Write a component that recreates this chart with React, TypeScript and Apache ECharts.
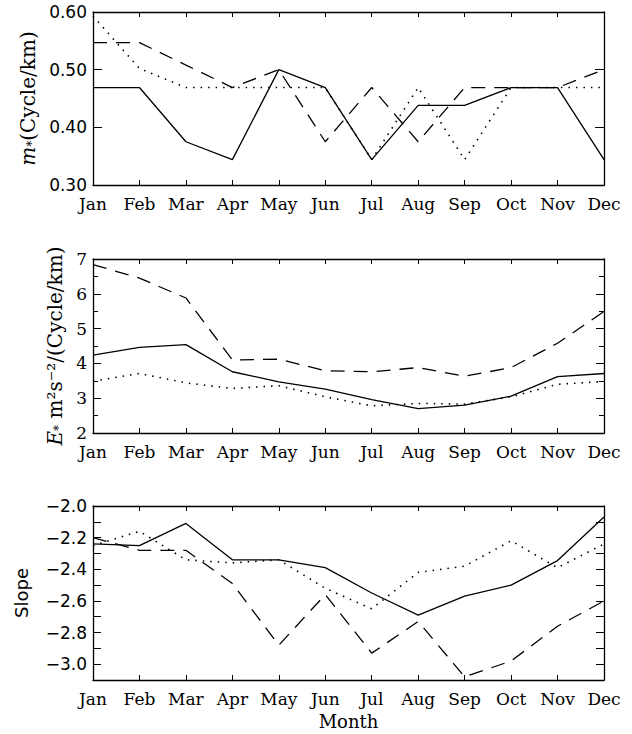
import React, { useEffect, useRef } from "react";
import * as echarts from "echarts";

const months = ["Jan", "Feb", "Mar", "Apr", "May", "Jun", "Jul", "Aug", "Sep", "Oct", "Nov", "Dec"];

// Panel 1: m* (Cycle/km)
const mSolid = [0.469, 0.469, 0.375, 0.344, 0.5, 0.469, 0.344, 0.438, 0.438, 0.469, 0.469, 0.344];
const mDotted = [0.593, 0.502, 0.469, 0.469, 0.469, 0.469, 0.344, 0.469, 0.344, 0.469, 0.469, 0.469];
const mDashed = [0.547, 0.547, 0.508, 0.469, 0.5, 0.375, 0.469, 0.375, 0.469, 0.469, 0.469, 0.5];

// Panel 2: E* m^2 s^-2 / (Cycle/km)
const eSolid = [4.24, 4.46, 4.54, 3.76, 3.47, 3.26, 2.96, 2.7, 2.8, 3.06, 3.62, 3.71];
const eDotted = [3.49, 3.71, 3.44, 3.28, 3.36, 3.04, 2.78, 2.85, 2.83, 3.04, 3.4, 3.48];
const eDashed = [6.84, 6.45, 5.88, 4.1, 4.12, 3.79, 3.76, 3.88, 3.63, 3.88, 4.58, 5.49];

// Panel 3: Slope
const sSolid = [-2.24, -2.25, -2.11, -2.34, -2.34, -2.39, -2.55, -2.69, -2.57, -2.5, -2.345, -2.07];
const sDotted = [-2.25, -2.16, -2.34, -2.36, -2.34, -2.52, -2.65, -2.42, -2.38, -2.22, -2.39, -2.24];
const sDashed = [-2.2, -2.28, -2.28, -2.49, -2.88, -2.56, -2.93, -2.73, -3.08, -2.98, -2.76, -2.6];

const SERIF = "DejaVu Serif";
const SANS = "DejaVu Sans";
const BLACK = "#000";

export default function App() {
  const ref = useRef<HTMLDivElement>(null);

  useEffect(() => {
    if (!ref.current) return;
    const chart = echarts.init(ref.current, null, { renderer: "svg" });

    const grids = [
      { left: 93, right: 28, top: 12, height: 173 },
      { left: 93, right: 28, top: 259, height: 174 },
      { left: 93, right: 28, top: 506, height: 174 },
    ].map((g) => ({ ...g, show: false, containLabel: false, outerBoundsMode: "none" }));

    const axisLine = { show: true, lineStyle: { color: BLACK, width: 1.3 } };

    const bottomX = (gi: number, withName: boolean) => ({
      type: "category",
      gridIndex: gi,
      data: months,
      boundaryGap: false,
      position: "bottom",
      axisLine,
      axisTick: { show: true, inside: true, length: 5, lineStyle: { color: BLACK, width: 1 } },
      axisLabel: {
        interval: 0,
        margin: 10,
        color: BLACK,
        fontFamily: SERIF,
        fontSize: 17,
      },
      splitLine: { show: false },
      name: withName ? "Month" : "",
      nameLocation: "middle",
      nameGap: 32,
      nameTextStyle: { color: BLACK, fontFamily: SERIF, fontSize: 18 },
    });

    const topX = (gi: number) => ({
      type: "category",
      gridIndex: gi,
      data: months,
      boundaryGap: false,
      position: "top",
      axisLine,
      axisTick: { show: true, inside: true, length: 5, lineStyle: { color: BLACK, width: 1 } },
      axisLabel: { show: false },
      splitLine: { show: false },
    });

    const yCommon = (gi: number, min: number, max: number, interval: number) => ({
      type: "value",
      gridIndex: gi,
      min,
      max,
      interval,
      axisLine,
      splitLine: { show: false },
    });

    const yAxes: any[] = [
      {
        ...yCommon(0, 0.3, 0.6, 0.1),
        position: "left",
        axisTick: { show: true, inside: true, length: 9, lineStyle: { color: BLACK, width: 1 } },
        axisLabel: {
          margin: 6,
          color: BLACK,
          fontFamily: SANS,
          fontSize: 17,
          formatter: (v: number) => v.toFixed(2),
        },
        name: "{i|m}{s|*}(Cycle/km)",
        nameLocation: "middle",
        nameRotate: 90,
        nameGap: 52,
        nameTextStyle: {
          color: BLACK,
          fontFamily: SERIF,
          fontSize: 20,
          rich: {
            i: { fontFamily: SERIF, fontStyle: "italic", fontSize: 20, color: BLACK },
            s: { fontFamily: SERIF, fontSize: 12, color: BLACK, verticalAlign: "bottom" },
          },
        },
      },
      {
        ...yCommon(1, 2, 7, 1),
        position: "left",
        axisTick: { show: true, inside: true, length: 8, lineStyle: { color: BLACK, width: 1 } },
        minorTick: { show: true, splitNumber: 2, length: 5, lineStyle: { color: BLACK, width: 1 } },
        axisLabel: { margin: 6, color: BLACK, fontFamily: SERIF, fontSize: 17 },
        name: "{i|E}{s|*} m²s⁻²/(Cycle/km)",
        nameLocation: "middle",
        nameRotate: 90,
        nameGap: 28,
        nameTextStyle: {
          color: BLACK,
          fontFamily: SERIF,
          fontSize: 20,
          rich: {
            i: { fontFamily: SERIF, fontStyle: "italic", fontSize: 20, color: BLACK },
            s: { fontFamily: SERIF, fontSize: 12, color: BLACK, verticalAlign: "bottom" },
          },
        },
      },
      {
        ...yCommon(2, -3.1, -2.0, 0.1),
        position: "left",
        axisTick: { show: true, inside: true, length: 8, lineStyle: { color: BLACK, width: 1 } },
        axisLabel: {
          margin: 6,
          color: BLACK,
          fontFamily: SANS,
          fontSize: 17,
          formatter: (v: number) => {
            const k = Math.round(v * 10);
            return k % 2 === 0 ? "−" + Math.abs(k / 10).toFixed(1) : "";
          },
        },
        name: "Slope",
        nameLocation: "middle",
        nameRotate: 90,
        nameGap: 63,
        nameTextStyle: { color: BLACK, fontFamily: SANS, fontSize: 18 },
      },
      {
        ...yCommon(0, 0.3, 0.6, 0.1),
        position: "right",
        axisTick: { show: true, inside: true, length: 9, lineStyle: { color: BLACK, width: 1 } },
        axisLabel: { show: false },
      },
      {
        ...yCommon(1, 2, 7, 1),
        position: "right",
        axisTick: { show: true, inside: true, length: 8, lineStyle: { color: BLACK, width: 1 } },
        minorTick: { show: true, splitNumber: 2, length: 5, lineStyle: { color: BLACK, width: 1 } },
        axisLabel: { show: false },
      },
      {
        ...yCommon(2, -3.1, -2.0, 0.1),
        position: "right",
        axisTick: { show: true, inside: true, length: 8, lineStyle: { color: BLACK, width: 1 } },
        axisLabel: { show: false },
      },
    ];

    const xAxes: any[] = [bottomX(0, false), bottomX(1, false), bottomX(2, true), topX(0), topX(1), topX(2)];

    const styles: Record<string, any> = {
      solid: { type: "solid", width: 1.3, color: BLACK },
      dotted: { type: [1.5, 6], width: 1.6, color: BLACK },
      dashed: { type: [14, 9], width: 1.3, color: BLACK },
    };

    const mk = (gi: number, data: number[], kind: string) => ({
      type: "line",
      xAxisIndex: gi,
      yAxisIndex: gi,
      data,
      symbol: "none",
      silent: true,
      lineStyle: styles[kind],
      z: kind === "solid" ? 3 : 2,
    });

    const series = [
      mk(0, mSolid, "solid"),
      mk(0, mDotted, "dotted"),
      mk(0, mDashed, "dashed"),
      mk(1, eSolid, "solid"),
      mk(1, eDotted, "dotted"),
      mk(1, eDashed, "dashed"),
      mk(2, sSolid, "solid"),
      mk(2, sDotted, "dotted"),
      mk(2, sDashed, "dashed"),
    ];

    chart.setOption({
      animation: false,
      backgroundColor: "#fff",
      grid: grids,
      xAxis: xAxes,
      yAxis: yAxes,
      series,
    });

    return () => chart.dispose();
  }, []);

  return (
    <div
      ref={ref}
      style={{ position: "fixed", left: 0, top: 0, width: 632, height: 734, background: "#fff" }}
    />
  );
}
